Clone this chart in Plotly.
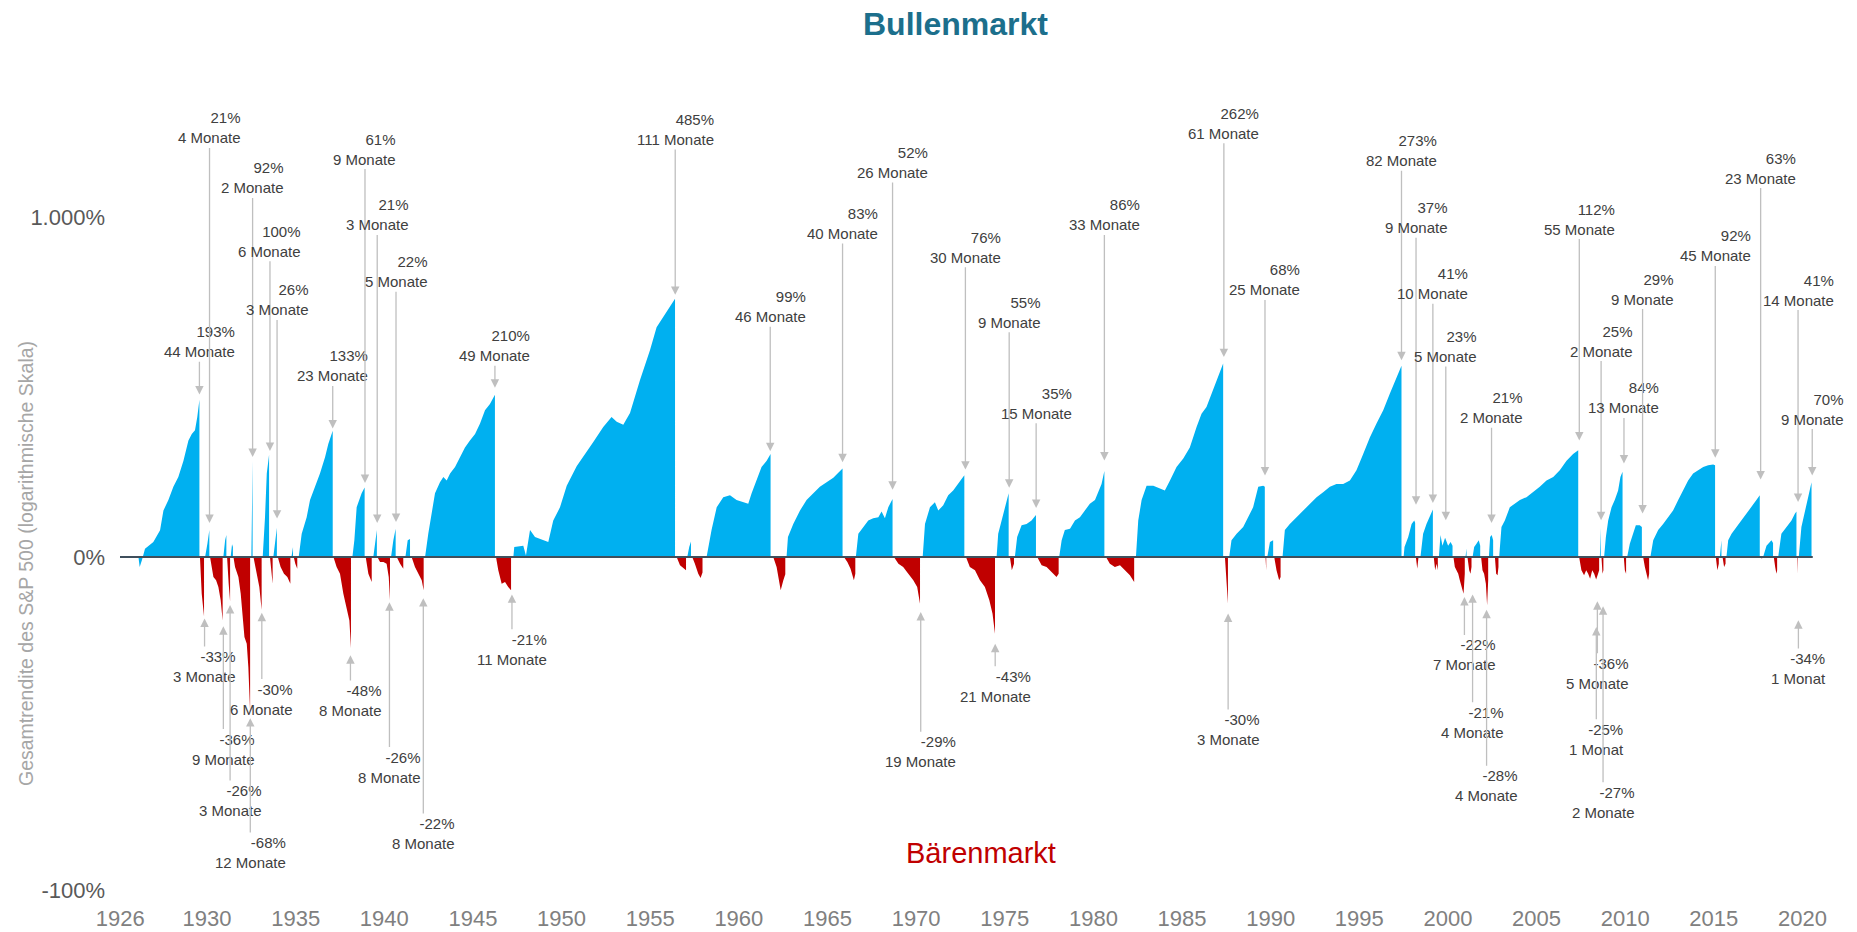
import math
import plotly.graph_objects as go

# ---------------- data (decimal year, cumulative return of the phase in %) ----------------
bull_dates = [
    1926.13, 1926.20, 1926.33, 1926.50, 1926.97, 1927.35, 1927.54, 1927.82, 1928.10, 1928.38, 1928.67, 1928.95, 1929.14, 1929.32, 1929.45, 1929.57,
    1929.89, 1930.02, 1930.13,
    1930.92, 1931.02, 1931.09,
    1931.33, 1931.41, 1931.46,
    1932.50, 1932.54, 1932.57,
    1933.14, 1933.27, 1933.37, 1933.50,
    1933.74, 1933.84, 1933.94,
    1934.76, 1934.85,
    1935.17, 1935.34, 1935.62, 1935.81, 1936.09, 1936.37, 1936.66, 1936.84, 1937.09,
    1938.20, 1938.31, 1938.44, 1938.59, 1938.72, 1938.89,
    1939.38, 1939.48, 1939.58,
    1940.38, 1940.51, 1940.64,
    1941.19, 1941.32, 1941.45,
    1942.30, 1942.48, 1942.67, 1942.86, 1943.14, 1943.33, 1943.52, 1943.71, 1943.99, 1944.27, 1944.55, 1944.83, 1945.12, 1945.40, 1945.68, 1945.96, 1946.24,
    1947.28, 1947.33, 1947.84, 1947.99, 1948.22, 1948.50, 1948.78, 1949.25, 1949.53, 1949.91, 1950.29, 1950.85, 1951.79, 1952.35, 1952.82, 1953.11, 1953.48, 1953.86, 1954.42, 1954.99, 1955.36, 1955.74, 1956.11, 1956.40,
    1957.09, 1957.20, 1957.30,
    1958.18, 1958.46, 1958.75, 1959.12, 1959.50, 1959.87, 1960.25, 1960.53, 1960.72, 1961.00, 1961.28, 1961.57, 1961.79,
    1962.69, 1962.77, 1963.07, 1963.45, 1963.82, 1964.20, 1964.57, 1964.95, 1965.33, 1965.61, 1965.85,
    1966.60, 1966.74, 1967.02, 1967.30, 1967.58, 1967.87, 1968.05, 1968.24, 1968.43, 1968.67,
    1970.37, 1970.50, 1970.78, 1971.06, 1971.25, 1971.53, 1971.81, 1972.09, 1972.38, 1972.72,
    1974.54, 1974.63, 1974.82, 1975.07, 1975.22,
    1975.57, 1975.70, 1975.95, 1976.23, 1976.51, 1976.76,
    1978.07, 1978.21, 1978.39, 1978.68, 1978.96, 1979.24, 1979.52, 1979.80, 1980.09, 1980.27, 1980.46, 1980.62,
    1982.40, 1982.53, 1982.72, 1983.00, 1983.38, 1983.75, 1984.03, 1984.32, 1984.69, 1985.07, 1985.44, 1985.82, 1986.10, 1986.38, 1986.67, 1986.95, 1987.32,
    1987.66, 1987.79, 1988.08, 1988.45, 1988.73, 1989.01, 1989.30, 1989.58, 1989.67,
    1989.81, 1989.96, 1990.14,
    1990.67, 1990.80, 1991.08, 1991.46, 1991.84, 1992.21, 1992.59, 1992.96, 1993.34, 1993.71, 1994.09, 1994.47, 1994.84, 1995.22, 1995.60, 1995.97, 1996.35, 1996.72, 1997.10, 1997.38,
    1997.50, 1997.55, 1997.76, 1997.95, 1998.10, 1998.15,
    1998.45, 1998.60, 1998.79, 1999.02, 1999.15,
    1999.49, 1999.58, 1999.69, 1999.84, 2000.01, 2000.15, 2000.26,
    2000.99, 2001.05,
    2001.39, 2001.48, 2001.61, 2001.74, 2001.82,
    2002.31, 2002.38, 2002.47, 2002.55,
    2002.89, 2003.02, 2003.21, 2003.49, 2003.77, 2004.06, 2004.43, 2004.81, 2005.18, 2005.56, 2005.94, 2006.31, 2006.69, 2007.06, 2007.35,
    2008.57, 2008.62,
    2008.81, 2008.91, 2009.04, 2009.23, 2009.41, 2009.60, 2009.73, 2009.85,
    2010.11, 2010.26, 2010.45, 2010.60, 2010.82, 2010.94,
    2011.42, 2011.58, 2011.86, 2012.14, 2012.42, 2012.70, 2012.99, 2013.27, 2013.55, 2013.83, 2014.11, 2014.40, 2014.68, 2014.96, 2015.07,
    2015.34, 2015.43,
    2015.71, 2015.81, 2016.00, 2016.28, 2016.56, 2016.84, 2017.12, 2017.40, 2017.59,
    2017.78, 2017.97, 2018.25, 2018.34,
    2018.63, 2018.81, 2019.10, 2019.38, 2019.57, 2019.66,
    2019.79, 2019.94, 2020.13, 2020.32, 2020.51,
]
bull_returns = [
    0, -6.5, -2, 5.8, 10.7, 19.8, 37, 47, 61, 72, 92, 120, 130, 136, 158, 190,
    0, 9.4, 20,
    0, 12, 16,
    0, 9, 7,
    0, 45, 92,
    0, 31, 76, 100,
    0, 12, 22,
    0, 7,
    0, 17, 31, 47, 61, 76, 97, 115, 135,
    0, 12, 40, 47, 54, 60,
    0, 12, 20,
    0, 12, 21,
    0, 12, 13,
    0, 17, 34, 54, 66, 72, 68, 76, 84, 97, 110, 120, 130, 147, 170, 182, 200,
    0, 7, 8, 1, 20, 14.5, 13, 10.7, 28, 40, 62, 85, 118, 141, 158, 150, 145, 165, 231, 306, 374, 408, 443, 475,
    0, 7, 11,
    0, 20, 40, 50, 52, 47, 45, 43.5, 54, 68, 84, 92, 101,
    0, 14.5, 25, 37, 47, 54, 61, 66, 71, 77, 82,
    0, 17, 22.5, 28, 30, 31, 36, 30, 40, 48,
    0, 25, 40, 45, 37, 42, 52, 57, 64, 74,
    0, 17, 28, 43.5, 54,
    0, 14.5, 24, 25, 28, 33,
    0, 12, 20, 21, 28, 31, 37, 43.5, 47, 55, 64, 79,
    0, 28, 47, 62, 62, 59, 57, 68, 84, 95, 110, 141, 164, 176, 202, 231, 271,
    0, 12, 17, 22.5, 31, 40, 61, 62, 61,
    0, 10.7, 12,
    0, 20, 25, 31, 37, 43.5, 50, 55, 61, 64, 64, 68, 80, 101, 125, 147, 170, 202, 235, 265,
    0, 7, 14.5, 25, 28, 26,
    0, 17, 25, 34, 38,
    0, 16, 8, 14, 8, 10.7, 8,
    0, 6,
    0, 7, 9.4, 12, 8,
    0, 14.5, 16, 12,
    0, 22.5, 28, 40, 43.5, 47, 50, 55, 61, 68, 72, 80, 92, 101, 106,
    0, 22,
    0, 14.5, 28, 40, 47, 57, 72, 78,
    0, 9.4, 17, 24, 24, 22.5,
    0, 12, 20, 25, 31, 37, 47, 57, 68, 76, 80, 84, 86, 87, 86,
    0, 12,
    0, 12, 17, 22.5, 28, 34, 40, 47, 52,
    0, 8, 12, 10,
    0, 17, 22.5, 28, 34, 36,
    0, 22.5, 37, 50, 66,
]

bear_dates = [
    1929.60, 1929.70, 1929.83,
    1930.17, 1930.36, 1930.51, 1930.64, 1930.77, 1930.88,
    1931.13, 1931.22, 1931.30,
    1931.49, 1931.58, 1931.77, 1931.90, 1932.01, 1932.11, 1932.24, 1932.33, 1932.43,
    1932.62, 1932.80, 1932.95, 1933.08,
    1933.55, 1933.65, 1933.70,
    1933.99, 1934.15, 1934.34, 1934.53, 1934.70,
    1934.89, 1934.98, 1935.09,
    1937.13, 1937.31, 1937.50, 1937.69, 1937.88, 1938.03, 1938.12,
    1938.95, 1939.10, 1939.29,
    1939.61, 1939.76, 1939.95, 1940.13, 1940.25, 1940.32,
    1940.70, 1940.89, 1941.07,
    1941.54, 1941.73, 1941.92, 1942.11, 1942.22,
    1946.30, 1946.43, 1946.62, 1946.81, 1946.99, 1947.15,
    1956.49, 1956.68, 1956.87, 1957.02,
    1957.37, 1957.52, 1957.71, 1957.84, 1957.95,
    1961.94, 1962.13, 1962.26, 1962.36, 1962.51, 1962.62,
    1965.93, 1966.12, 1966.30, 1966.49, 1966.57,
    1968.75, 1969.00, 1969.27, 1969.56, 1969.84, 1970.06, 1970.22,
    1972.81, 1973.03, 1973.32, 1973.60, 1973.88, 1974.13, 1974.31, 1974.45,
    1975.29, 1975.40, 1975.52,
    1976.83, 1977.08, 1977.36, 1977.64, 1977.92, 1978.04,
    1980.71, 1980.93, 1981.21, 1981.50, 1981.78, 1982.06, 1982.30,
    1987.42, 1987.51, 1987.59,
    1989.71, 1989.75,
    1990.20, 1990.33, 1990.48, 1990.56,
    1998.19, 1998.27, 1998.34,
    1999.20, 1999.28, 1999.36, 1999.43,
    2000.31, 2000.39, 2000.48, 2000.58, 2000.67, 2000.78, 2000.88, 2000.95,
    2001.10, 2001.20, 2001.27, 2001.33,
    2001.87, 2001.95, 2002.04, 2002.14, 2002.21, 2002.27,
    2002.65, 2002.72, 2002.80, 2002.85,
    2007.40, 2007.53, 2007.68, 2007.80, 2007.91, 2008.02, 2008.14, 2008.25, 2008.36, 2008.47, 2008.53,
    2008.66, 2008.72, 2008.77,
    2009.92, 2009.98, 2010.05,
    2011.01, 2011.11, 2011.20, 2011.29, 2011.35,
    2015.11, 2015.20, 2015.28,
    2015.49, 2015.58, 2015.66,
    2017.67, 2017.72,
    2018.38, 2018.46, 2018.53, 2018.57,
    2019.70, 2019.73,
]
bear_returns = [
    0, -22, -33,
    0, -12.7, -14.6, -18.4, -25.4, -35,
    0, -16.5, -26,
    0, -6.5, -12.7, -22, -33.4, -41.8, -44.4, -52.5, -65,
    0, -10.7, -18.4, -30,
    0, -14.6, -16.5,
    0, -6.5, -10.7, -12.7, -16.5,
    0, -4.4, -7.6,
    0, -6.5, -10.7, -22, -28.7, -34.9, -46,
    0, -10.7, -15.6,
    0, -3.3, -3.3, -4.4, -12.7, -25.4,
    0, -4.4, -7.6,
    0, -6.5, -10.7, -14.6, -20.2,
    0, -8.6, -16.5, -15.6, -18.4, -20.2,
    0, -5.5, -7.6, -8.6,
    0, -4.4, -10.7, -13.3, -10,
    0, -6.5, -14.6, -20.2, -14.6, -11,
    0, -3.3, -7.6, -14.6, -10.7,
    0, -4.4, -6.5, -10.7, -14.6, -18.4, -27.1,
    0, -6.5, -8.6, -14.6, -18.4, -25.4, -31.9, -40.5,
    0, -8.6, -4.4,
    0, -5.5, -6.5, -9.7, -12.7, -10.7,
    0, -4.4, -6.5, -5.5, -8.6, -11.7, -15.6,
    0, -14.6, -27,
    0, -8.6,
    0, -8.6, -14.6, -12.7,
    0, -7.6, -2.2,
    0, -8.6, -4.4, -8.6,
    0, -6.5, -8.6, -10.7, -14.6, -19.3, -22, -10.7,
    0, -8.6, -10.7, -6.5,
    0, -8.6, -10.7, -16.5, -27.9, -14.6,
    0, -10.7, -11.7, -6.5,
    0, -8.6, -11.7, -8.6, -10.7, -13.7, -8.6, -10.7, -14.2, -10.7, -8.6,
    0, -10.7, -8.6,
    0, -8.6, -10.7,
    0, -6.5, -10.7, -14.6, -10.7,
    0, -8.6, -4.4,
    0, -6.5, -4.4,
    0, -1.5,
    0, -6.5, -10.7, -8.6,
    0, -10.7,
]

# annotation labels
ann_pct = ["193%", "21%", "92%", "100%", "26%", "133%", "61%", "21%", "22%", "210%",
           "485%", "99%", "83%", "52%", "76%", "55%", "35%", "86%", "262%", "68%",
           "273%", "37%", "41%", "23%", "21%", "112%", "25%", "84%", "29%", "92%",
           "63%", "41%", "70%",
           "-33%", "-36%", "-26%", "-68%", "-30%", "-48%", "-26%", "-22%", "-21%",
           "-29%", "-43%", "-30%", "-22%", "-21%", "-28%", "-36%", "-25%", "-27%", "-34%"]
ann_months = ["44 Monate", "4 Monate", "2 Monate", "6 Monate", "3 Monate", "23 Monate", "9 Monate", "3 Monate", "5 Monate", "49 Monate",
              "111 Monate", "46 Monate", "40 Monate", "26 Monate", "30 Monate", "9 Monate", "15 Monate", "33 Monate", "61 Monate", "25 Monate",
              "82 Monate", "9 Monate", "10 Monate", "5 Monate", "2 Monate", "55 Monate", "2 Monate", "13 Monate", "9 Monate", "45 Monate",
              "23 Monate", "14 Monate", "9 Monate",
              "3 Monate", "9 Monate", "3 Monate", "12 Monate", "6 Monate", "8 Monate", "8 Monate", "8 Monate", "11 Monate",
              "19 Monate", "21 Monate", "3 Monate", "7 Monate", "4 Monate", "4 Monate", "5 Monate", "1 Monat", "2 Monate", "1 Monat"]
ann_year = [1929.57, 1930.14, 1932.57, 1933.55, 1933.95, 1937.09, 1938.91, 1939.60, 1940.66, 1946.24,
            1956.41, 1961.77, 1965.85, 1968.67, 1972.78, 1975.25, 1976.77, 1980.62, 1987.36, 1989.68,
            1997.38, 1998.20, 1999.15, 1999.88, 2002.46, 2007.41, 2008.64, 2009.93, 2010.98, 2015.08,
            2017.64, 2019.75, 2020.55,
            1929.86, 1930.92, 1931.30, 1932.44, 1933.09, 1938.09, 1940.29, 1942.20, 1947.20,
            1970.26, 1974.46, 1987.60, 2000.93, 2001.39, 2002.18, 2008.43, 2008.37, 2008.75, 2019.77]
# positions on the (log10) plotting scale: arrow tip and label centre
ann_tip_y = [0.478, 0.100, 0.294, 0.312, 0.113, 0.378, 0.218, 0.100, 0.103, 0.498,
             0.771, 0.311, 0.279, 0.198, 0.257, 0.204, 0.144, 0.284, 0.588, 0.240,
             0.579, 0.154, 0.159, 0.108, 0.100, 0.343, 0.108, 0.275, 0.128, 0.292,
             0.228, 0.162, 0.240,
             -0.181, -0.204, -0.141, -0.474, -0.164, -0.289, -0.133, -0.121, -0.110,
             -0.162, -0.255, -0.166, -0.118, -0.110, -0.155, -0.130, -0.206, -0.145, -0.186]
ann_text_y = [0.633, 1.262, 1.115, 0.929, 0.756, 0.562, 1.200, 1.006, 0.839, 0.621,
              1.257, 0.736, 0.981, 1.160, 0.911, 0.720, 0.452, 1.006, 1.276, 0.815,
              1.195, 0.998, 0.804, 0.619, 0.439, 0.994, 0.635, 0.468, 0.788, 0.915,
              1.144, 0.785, 0.435,
              -0.322, -0.565, -0.716, -0.869, -0.418, -0.422, -0.618, -0.813, -0.271,
              -0.573, -0.380, -0.507, -0.288, -0.486, -0.673, -0.342, -0.536, -0.721, -0.328]

x_ticks = [1925.1, 1930, 1935, 1940, 1945, 1950, 1955, 1960, 1965, 1970, 1975, 1980, 1985,
           1990, 1995, 2000, 2005, 2010, 2015, 2020]
x_tick_text = ["1926", "1930", "1935", "1940", "1945", "1950", "1955", "1960", "1965", "1970",
               "1975", "1980", "1985", "1990", "1995", "2000", "2005", "2010", "2015", "2020"]
y_ticks = [1.0, 0.0, -0.98]
y_tick_text = ["1.000%", "0%", "-100%"]


def phase_area(dates, rets):
    """Each phase starts at 0 %; close every phase back to 0 at its last date."""
    xs, ys = [], []
    for d, r in zip(dates, rets):
        if r == 0 and ys and ys[-1] != 0:
            xs.append(xs[-1])
            ys.append(0)
        xs.append(d)
        ys.append(r)
    if ys and ys[-1] != 0:
        xs.append(xs[-1])
        ys.append(0)
    return xs, [math.log10(1 + r / 100.0) for r in ys]


bx, by = phase_area(bull_dates, bull_returns)
rx, ry = phase_area(bear_dates, bear_returns)

BLUE = "#00b0f0"
RED = "#c00000"
FONT = "Arial, 'Liberation Sans', Helvetica, sans-serif"

fig = go.Figure()
fig.add_trace(go.Scatter(x=bx, y=by, mode="lines", line=dict(width=0, color=BLUE),
                         fill="tozeroy", fillcolor=BLUE, hoverinfo="skip", showlegend=False))
fig.add_trace(go.Scatter(x=rx, y=ry, mode="lines", line=dict(width=0, color=RED),
                         fill="tozeroy", fillcolor=RED, hoverinfo="skip", showlegend=False))

X0, X1 = 1925.09, 2020.65
fig.add_shape(type="line", xref="x", yref="y", x0=X0, x1=2020.58, y0=0, y1=0,
              line=dict(color="#3f4f5c", width=2), layer="above")

annotations = []
for pct, mon, xx, tip, ty in zip(ann_pct, ann_months, ann_year, ann_tip_y, ann_text_y):
    annotations.append(dict(
        x=xx, y=tip, xref="x", yref="y",
        ax=xx, ay=ty, axref="x", ayref="y",
        text=pct + "<br>" + mon, align="right",
        showarrow=True, arrowhead=2, arrowsize=1.3, arrowwidth=1.3,
        arrowcolor="#bfbfbf", standoff=0,
        font=dict(family=FONT, size=15, color="#404040"),
    ))

annotations.append(dict(text="<b>Bullenmarkt</b>", xref="paper", yref="paper",
                        x=(955 - 120) / 1694, y=(897 - 24) / 816, showarrow=False,
                        xanchor="center", yanchor="middle",
                        font=dict(family=FONT, size=32, color="#1c6f8c")))
annotations.append(dict(text="Bärenmarkt", xref="paper", yref="paper",
                        x=(981 - 120) / 1694, y=(897 - 853) / 816, showarrow=False,
                        xanchor="center", yanchor="middle",
                        font=dict(family=FONT, size=29, color=RED)))
annotations.append(dict(text="Gesamtrendite des S&amp;P 500 (logarithmische Skala)",
                        xref="paper", yref="paper", textangle=-90,
                        x=(26 - 120) / 1694, y=(897 - 564) / 816, showarrow=False,
                        xanchor="center", yanchor="middle",
                        font=dict(family=FONT, size=19.5, color="#a6a6a6")))

fig.update_layout(
    width=1857, height=932,
    margin=dict(l=120, r=43, t=81, b=35, pad=0, autoexpand=False),
    plot_bgcolor="white", paper_bgcolor="white",
    showlegend=False, hovermode=False,
    font=dict(family=FONT),
    annotations=annotations,
    xaxis=dict(range=[X0, X1], showgrid=False, zeroline=False, showline=False, ticks="",
               tickvals=x_ticks, ticktext=x_tick_text, ticklabelstandoff=6, automargin=False,
               tickfont=dict(family=FONT, size=22, color="#808080"), fixedrange=True),
    yaxis=dict(range=[-1.0, 1.4], showgrid=False, zeroline=False, showline=False, ticks="",
               tickvals=y_ticks, ticktext=y_tick_text, ticklabelstandoff=14, automargin=False,
               tickfont=dict(family=FONT, size=22, color="#595959"), fixedrange=True),
)

fig.write_html("out.html", config={"displayModeBar": False},
               post_script="document.body.style.margin='0';")
